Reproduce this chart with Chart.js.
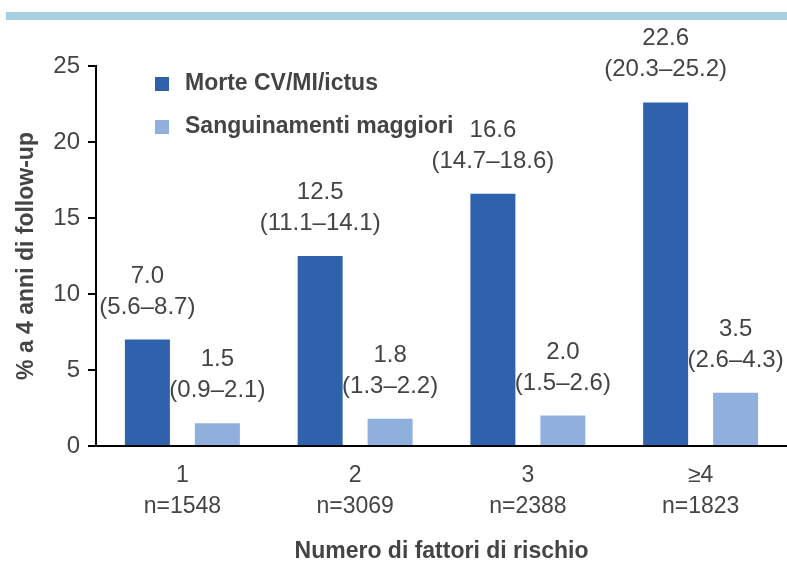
<!DOCTYPE html>
<html>
<head>
<meta charset="utf-8">
<script src="https://cdn.jsdelivr.net/npm/chart.js@4.4.1/dist/chart.umd.min.js"></script>
<style>
  body { margin: 0; background: #fff; }
  #wrap { position: relative; width: 787px; height: 565px; }
  #band { position: absolute; left: 6px; top: 12px; width: 781px; height: 8px; background: #a6cfe2; }
  canvas { position: absolute; left: 0; top: 0; }
</style>
</head>
<body>
<div id="wrap">
  <canvas id="myChart" width="787" height="565"></canvas>
  <div id="band"></div>
</div>
<script>
// dati
var categories = [['1', 'n=1548'], ['2', 'n=3069'], ['3', 'n=2388'], ['\u22654', 'n=1823']];
var seriesNames = ['Morte CV/MI/ictus', 'Sanguinamenti maggiori'];
var morteValues = [7.0, 12.5, 16.6, 22.6];
var morteCI = ['(5.6\u20138.7)', '(11.1\u201314.1)', '(14.7\u201318.6)', '(20.3\u201325.2)'];
var sangValues = [1.5, 1.8, 2.0, 3.5];
var sangCI = ['(0.9\u20132.1)', '(1.3\u20132.2)', '(1.5\u20132.6)', '(2.6\u20134.3)'];
var yTicks = [0, 5, 10, 15, 20, 25];

var colors = ['#2f62ad', '#8fb0dc'];
var textColor = '#444';
var fontFamily = '"Liberation Sans", Arial, sans-serif';

// etichette sopra le barre (valore + IC)
var barLabels = {
    id: 'barLabels',
    afterDatasetsDraw: function(chart) {
        var ctx = chart.ctx;
        var cis = [morteCI, sangCI];
        ctx.save();
        ctx.fillStyle = textColor;
        ctx.font = '24px ' + fontFamily;
        ctx.textAlign = 'center';
        ctx.textBaseline = 'alphabetic';
        chart.data.datasets.forEach(function(ds, di) {
            chart.getDatasetMeta(di).data.forEach(function(bar, i) {
                var y = bar.y - 26;
                ctx.fillText(cis[di][i], bar.x, y);
                ctx.fillText(ds.data[i].toFixed(1), bar.x, y - 31);
            });
        });
        ctx.restore();
    }
};

// legenda dentro l'area del grafico
var innerLegend = {
    id: 'innerLegend',
    afterDraw: function(chart) {
        var ctx = chart.ctx;
        ctx.save();
        ctx.font = 'bold 23px ' + fontFamily;
        ctx.textBaseline = 'middle';
        chart.data.datasets.forEach(function(ds, di) {
            var y = 84 + di * 43;
            ctx.fillStyle = ds.backgroundColor;
            ctx.fillRect(155, y - 7, 14, 14);
            ctx.fillStyle = textColor;
            ctx.fillText(ds.label, 185, y);
        });
        ctx.restore();
    }
};

var ctx = document.getElementById('myChart').getContext('2d');
var myChart = new Chart(ctx, {
    type: 'bar',
    data: {
        labels: categories,
        datasets: [{
            label: seriesNames[0],
            data: morteValues,
            backgroundColor: colors[0]
        }, {
            label: seriesNames[1],
            data: sangValues,
            backgroundColor: colors[1]
        }]
    },
    options: {
        responsive: false,
        animation: false,
        layout: { padding: { top: 66, right: 0, left: 0, bottom: 0 } },
        categoryPercentage: 0.81,
        barPercentage: 0.643,
        plugins: {
            legend: { display: false },
            tooltip: { enabled: false }
        },
        scales: {
            x: {
                grid: { display: false, drawOnChartArea: false, drawTicks: true, tickLength: 8, color: '#000', lineWidth: 2, offset: true },
                border: { color: '#000', width: 2 },
                ticks: { color: textColor, font: { size: 23, family: fontFamily, lineHeight: 1.35 }, padding: 6 },
                title: { display: true, text: 'Numero di fattori di rischio', color: textColor, font: { size: 23, weight: 'bold', family: fontFamily }, padding: { top: 22, bottom: 0 } },
                afterFit: function(scale) { scale.height = 119; }
            },
            y: {
                min: 0,
                max: 25,
                afterBuildTicks: function(scale) { scale.ticks = yTicks.map(function(v) { return { value: v }; }); },
                grid: { drawOnChartArea: false, drawTicks: true, tickLength: 8, color: '#000', lineWidth: 2 },
                border: { color: '#000', width: 2 },
                ticks: { color: textColor, font: { size: 24, family: fontFamily }, padding: 8 },
                title: { display: true, text: '% a 4 anni di follow-up', color: textColor, font: { size: 23, weight: 'bold', family: fontFamily }, padding: { top: 13, bottom: 4 } },
                afterFit: function(scale) { scale.width = 96; }
            }
        }
    },
    plugins: [barLabels, innerLegend]
});
</script>
</body>
</html>
